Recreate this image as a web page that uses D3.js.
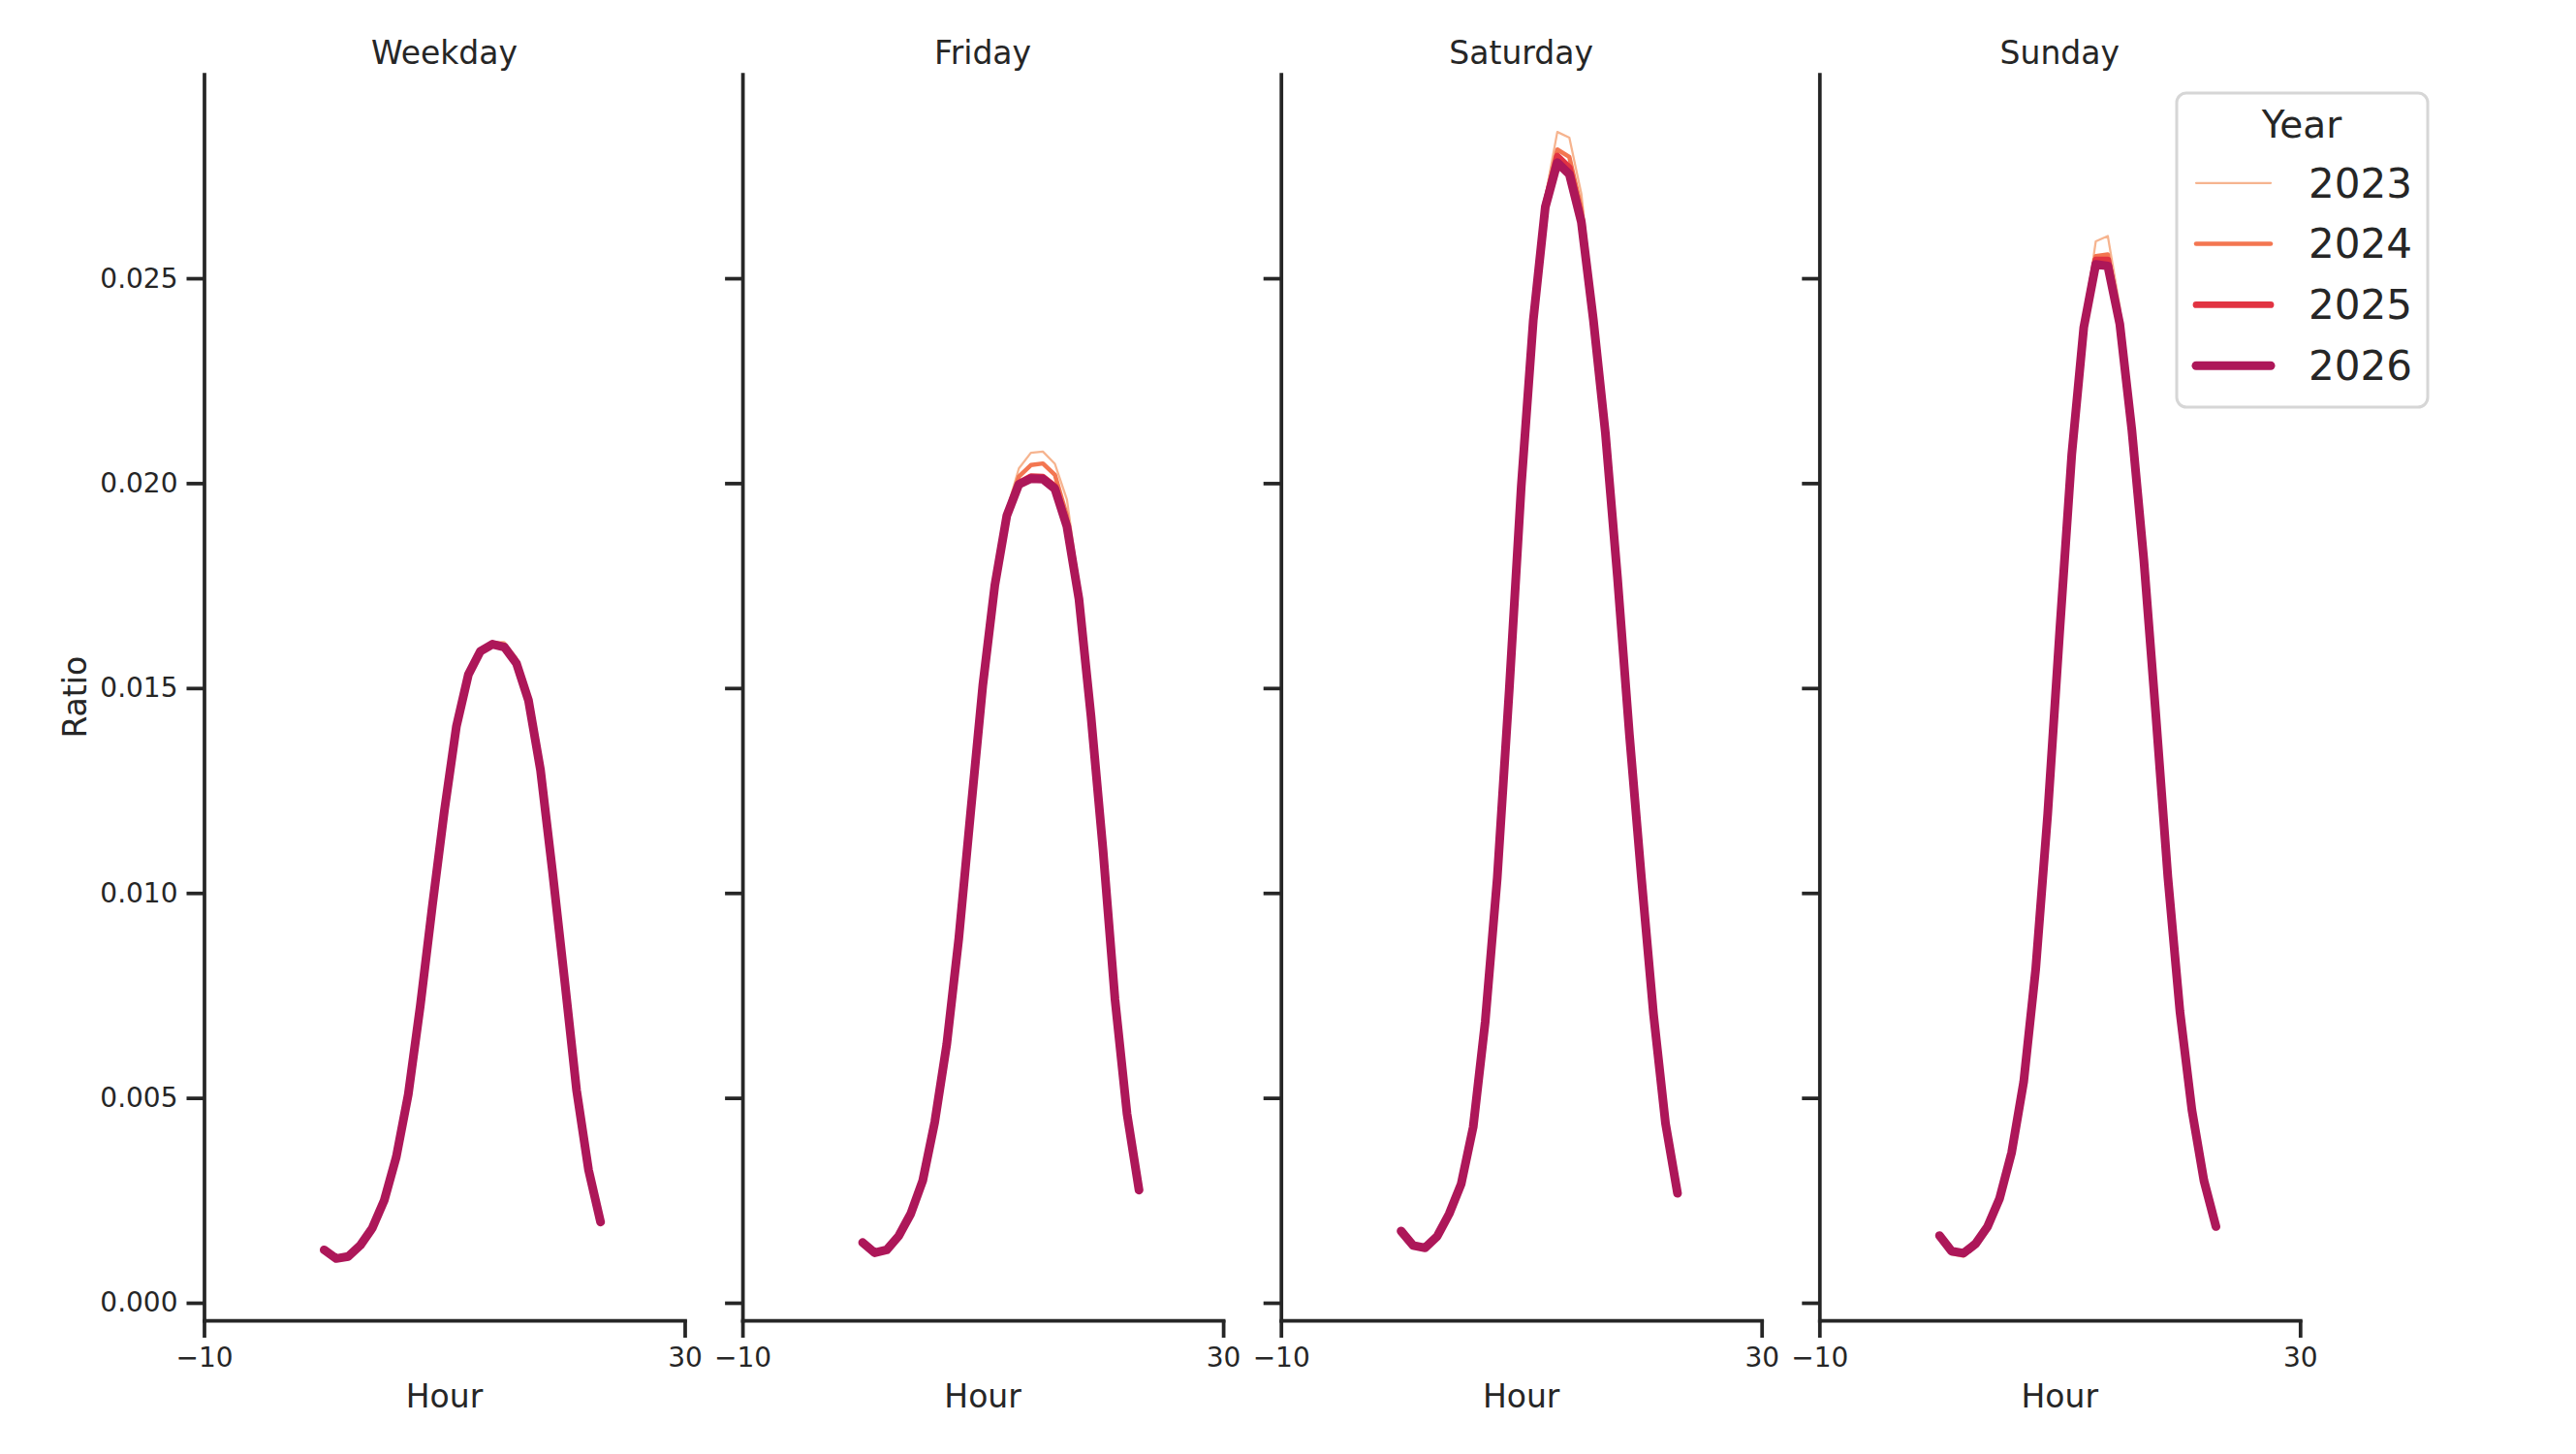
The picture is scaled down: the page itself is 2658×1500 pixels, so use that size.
<!DOCTYPE html>
<html>
<head>
<meta charset="utf-8">
<script src="https://cdn.jsdelivr.net/npm/d3@7"></script>
<style>
  body { margin: 0; background: #fff; }
  svg { display: block; font-family: "DejaVu Sans", sans-serif; }
</style>
</head>
<body>
<svg id="chart" width="2658" height="1500"></svg>
<script>
// data
const panels = ['Weekday', 'Friday', 'Saturday', 'Sunday'];
const years = [2023, 2024, 2025, 2026];
const hours = d3.range(0, 24);
const yTicks = [0, 0.005, 0.010, 0.015, 0.020, 0.025];
const xTicks = [-10, 30];

const weekday2023 = [0.00129,0.00105,0.00112,0.00140,0.00182,0.00250,0.00356,0.00509,0.00725,0.00968,0.01200,0.01406,0.01535,0.01594,0.01612,0.01612,0.01575,0.01478,0.01303,0.01052,0.00789,0.00519,0.00324,0.00197];
const weekday2024 = [0.00129,0.00107,0.00113,0.00140,0.00182,0.00250,0.00356,0.00509,0.00725,0.00968,0.01200,0.01406,0.01534,0.01592,0.01610,0.01606,0.01566,0.01473,0.01301,0.01052,0.00789,0.00519,0.00324,0.00197];
const weekday2025 = [0.00129,0.00109,0.00113,0.00140,0.00182,0.00250,0.00356,0.00509,0.00725,0.00968,0.01200,0.01406,0.01533,0.01591,0.01608,0.01602,0.01562,0.01471,0.01300,0.01052,0.00789,0.00519,0.00324,0.00197];
const weekday2026 = [0.00129,0.00108,0.00113,0.00140,0.00182,0.00250,0.00356,0.00509,0.00725,0.00968,0.01200,0.01406,0.01533,0.01590,0.01607,0.01600,0.01560,0.01470,0.01300,0.01052,0.00789,0.00519,0.00324,0.00197];

const friday2023 = [0.00147,0.00118,0.00125,0.00163,0.00217,0.00298,0.00441,0.00631,0.00889,0.01201,0.01507,0.01755,0.01935,0.02036,0.02074,0.02077,0.02047,0.01960,0.01750,0.01445,0.01110,0.00740,0.00461,0.00275];
const friday2024 = [0.00147,0.00121,0.00128,0.00163,0.00217,0.00298,0.00441,0.00631,0.00889,0.01201,0.01507,0.01752,0.01928,0.02016,0.02044,0.02048,0.02020,0.01920,0.01730,0.01438,0.01107,0.00740,0.00461,0.00275];
const friday2025 = [0.00147,0.00122,0.00129,0.00163,0.00217,0.00298,0.00441,0.00631,0.00889,0.01201,0.01507,0.01751,0.01923,0.02000,0.02016,0.02015,0.01992,0.01900,0.01720,0.01433,0.01106,0.00740,0.00461,0.00275];
const friday2026 = [0.00147,0.00122,0.00129,0.00163,0.00217,0.00298,0.00441,0.00631,0.00889,0.01201,0.01507,0.01751,0.01921,0.01997,0.02011,0.02010,0.01986,0.01894,0.01717,0.01432,0.01106,0.00740,0.00461,0.00275];

const saturday2023 = [0.00175,0.00135,0.00131,0.00162,0.00217,0.00290,0.00429,0.00686,0.01036,0.01496,0.01995,0.02405,0.02699,0.02857,0.02843,0.02706,0.02430,0.02140,0.01780,0.01390,0.01038,0.00705,0.00438,0.00267];
const saturday2024 = [0.00175,0.00138,0.00133,0.00162,0.00217,0.00290,0.00429,0.00686,0.01036,0.01496,0.01994,0.02401,0.02685,0.02814,0.02796,0.02670,0.02410,0.02130,0.01776,0.01388,0.01036,0.00705,0.00438,0.00267];
const saturday2025 = [0.00175,0.00140,0.00134,0.00162,0.00217,0.00290,0.00429,0.00686,0.01036,0.01496,0.01993,0.02399,0.02680,0.02798,0.02770,0.02645,0.02402,0.02124,0.01773,0.01386,0.01036,0.00705,0.00438,0.00267];
const saturday2026 = [0.00175,0.00140,0.00134,0.00162,0.00217,0.00290,0.00429,0.00686,0.01036,0.01496,0.01993,0.02398,0.02674,0.02782,0.02754,0.02637,0.02398,0.02122,0.01772,0.01386,0.01036,0.00705,0.00438,0.00267];

const sunday2023 = [0.00164,0.00118,0.00112,0.00140,0.00186,0.00255,0.00367,0.00539,0.00814,0.01193,0.01642,0.02075,0.02390,0.02590,0.02603,0.02430,0.02150,0.01820,0.01436,0.01040,0.00711,0.00470,0.00298,0.00186];
const sunday2024 = [0.00164,0.00123,0.00118,0.00143,0.00186,0.00255,0.00367,0.00539,0.00814,0.01193,0.01641,0.02072,0.02384,0.02554,0.02558,0.02400,0.02138,0.01815,0.01434,0.01038,0.00711,0.00470,0.00298,0.00186];
const sunday2025 = [0.00164,0.00125,0.00120,0.00144,0.00186,0.00255,0.00367,0.00539,0.00814,0.01193,0.01640,0.02070,0.02381,0.02545,0.02545,0.02392,0.02132,0.01813,0.01433,0.01038,0.00711,0.00470,0.00298,0.00186];
const sunday2026 = [0.00164,0.00126,0.00121,0.00144,0.00186,0.00255,0.00367,0.00539,0.00814,0.01193,0.01640,0.02070,0.02380,0.02534,0.02530,0.02388,0.02130,0.01812,0.01433,0.01038,0.00711,0.00470,0.00298,0.00186];

const series = {
  Weekday: [weekday2023, weekday2024, weekday2025, weekday2026],
  Friday: [friday2023, friday2024, friday2025, friday2026],
  Saturday: [saturday2023, saturday2024, saturday2025, saturday2026],
  Sunday: [sunday2023, sunday2024, sunday2025, sunday2026],
};

// rocket palette, light to dark
const colors = d3.scaleOrdinal().domain(years).range(['#f6b48f', '#f37651', '#e13342', '#ad1759']);
const widths = d3.scaleOrdinal().domain(years).range([2.25, 4.5, 6.75, 9]);

const ink = '#262626';
const svg = d3.select('#chart');
svg.append('rect').attr('width', 2658).attr('height', 1500).attr('fill', '#fff');

const panelW = 496;
const panelStep = 555.6;
const firstLeft = 210.5;
const plotTop = 76.5, plotBottom = 1362;

const y = d3.scaleLinear().domain([-0.000426, 0.02998]).range([plotBottom, plotTop]);

panels.forEach((name, i) => {
  const left = firstLeft + i * panelStep;
  const x = d3.scaleLinear().domain([-10, 30]).range([left, left + panelW]);
  const g = svg.append('g');

  // lines, lightest first so 2026 ends on top
  const line = d3.line().x((d, k) => x(hours[k])).y(d => y(d));
  series[name].forEach((vals, j) => {
    g.append('path')
      .attr('d', line(vals))
      .attr('fill', 'none')
      .attr('stroke', colors(years[j]))
      .attr('stroke-width', widths(years[j]))
      .attr('stroke-linejoin', 'round')
      .attr('stroke-linecap', 'round');
  });

  const yAxis = d3.axisLeft(y).tickValues(yTicks).tickSize(18).tickSizeOuter(0)
    .tickPadding(9).tickFormat(i === 0 ? d3.format('.3f') : '');
  const ga = g.append('g').attr('transform', `translate(${left},0)`).call(yAxis);

  const xAxis = d3.axisBottom(x).tickValues(xTicks).tickSize(18).tickSizeOuter(0)
    .tickPadding(10.5).tickFormat(d3.format('d'));
  const gb = g.append('g').attr('transform', `translate(0,${plotBottom})`).call(xAxis);

  [ga, gb].forEach(ax => {
    ax.select('.domain').attr('stroke', ink).attr('stroke-width', 3.75).attr('stroke-linecap', 'square');
    ax.selectAll('.tick line').attr('stroke', ink).attr('stroke-width', 3.75);
    ax.selectAll('.tick text').attr('fill', ink).style('font-size', '28px')
      .style('font-family', '"DejaVu Sans", sans-serif');
  });

  g.append('text')
    .attr('x', left + panelW / 2).attr('y', 66)
    .attr('text-anchor', 'middle').attr('fill', ink)
    .style('font-size', '33px').text(name);

  g.append('text')
    .attr('x', left + panelW / 2).attr('y', 1452)
    .attr('text-anchor', 'middle').attr('fill', ink)
    .style('font-size', '33px').text('Hour');
});

svg.append('text')
  .attr('transform', `translate(89,${(plotTop + plotBottom) / 2}) rotate(-90)`)
  .attr('text-anchor', 'middle').attr('fill', ink)
  .style('font-size', '33px').text('Ratio');

// legend
const legend = svg.append('g');
legend.append('rect')
  .attr('x', 2246).attr('y', 96).attr('width', 259).attr('height', 324).attr('rx', 10)
  .attr('fill', '#fff').attr('fill-opacity', 0.8)
  .attr('stroke', '#d6d6d6').attr('stroke-width', 3);
legend.append('text')
  .attr('x', 2375).attr('y', 142).attr('text-anchor', 'middle').attr('fill', ink)
  .style('font-size', '39px').text('Year');
years.forEach((yr, j) => {
  const base = 203.5 + j * 62.8;
  legend.append('line')
    .attr('x1', 2266).attr('x2', 2343)
    .attr('y1', base - 14.7).attr('y2', base - 14.7)
    .attr('stroke', colors(yr)).attr('stroke-width', widths(yr))
    .attr('stroke-linecap', 'round');
  legend.append('text')
    .attr('x', 2382).attr('y', base).attr('fill', ink)
    .style('font-size', '42px').text(yr);
});
</script>
</body>
</html>
